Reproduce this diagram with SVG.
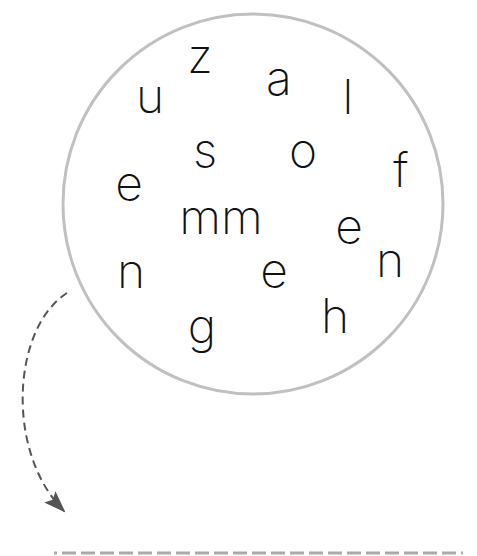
<svg xmlns="http://www.w3.org/2000/svg" width="477" height="556" viewBox="0 0 477 556">
<style>
.ltr{font-family:"Inter","DejaVu Sans",sans-serif;font-weight:200;font-size:48px;fill:#111;text-anchor:middle}
.pool{fill:none;stroke:#c0c0c0;stroke-width:3}
.arrow{fill:none;stroke:#555;stroke-width:2;stroke-dasharray:8 5}
.base{fill:none;stroke:#aaa;stroke-width:3}
</style>
<defs>
<marker id="head" markerWidth="22" markerHeight="18" refX="20" refY="9" orient="auto" markerUnits="userSpaceOnUse">
<path d="M0,1 L22,9 L0,17 L4,9 z" fill="#555"/>
</marker>
</defs>
<g id="pool"><circle class="pool" cx="253" cy="204" r="190"/></g>
<g id="letters">
<g id="l-z"><text class="ltr" x="200" y="73">z</text></g>
<g id="l-u"><text class="ltr" x="150" y="113">u</text></g>
<g id="l-a"><text class="ltr" x="279" y="95">a</text></g>
<g id="l-l"><text class="ltr" x="348" y="114">l</text></g>
<g id="l-s"><text class="ltr" x="205" y="167">s</text></g>
<g id="l-o"><text class="ltr" x="303" y="167">o</text></g>
<g id="l-f"><text class="ltr" x="401" y="187">f</text></g>
<g id="l-e1"><text class="ltr" x="129" y="200">e</text></g>
<g id="l-mm"><text class="ltr" x="221" y="234">mm</text></g>
<g id="l-e2"><text class="ltr" x="349" y="243">e</text></g>
<g id="l-n1"><text class="ltr" x="390" y="277">n</text></g>
<g id="l-n2"><text class="ltr" x="131" y="288">n</text></g>
<g id="l-e3"><text class="ltr" x="274" y="287">e</text></g>
<g id="l-h"><text class="ltr" x="335" y="333">h</text></g>
<g id="l-g"><text class="ltr" x="202" y="343">g</text></g>
</g>
<g id="connectors">
<path class="arrow" d="M67,293 C12,328 5,452 64,511" marker-end="url(#head)"/>
<line class="base" x1="54" y1="553" x2="463" y2="553" stroke-dasharray="3 5 14 5 14 5 14 5 14 5 14 5 14 5 14 5 14 5 14 5 14 5 14 5 14 5 14 5 14 5 14 5 14 5 14 5 14 5 14 5 14 5 14 5 14 5"/>
</g>
</svg>
